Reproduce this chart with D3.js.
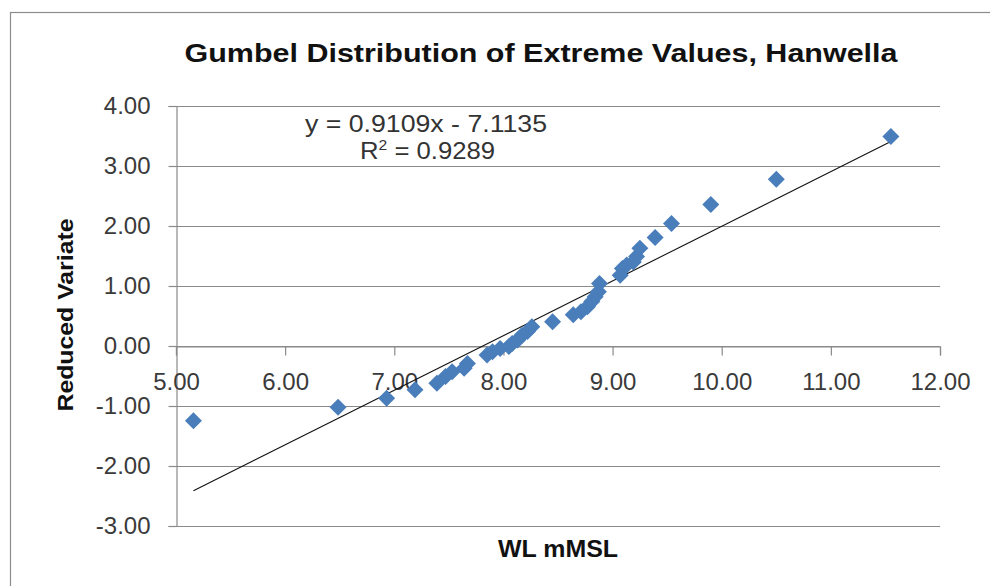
<!DOCTYPE html>
<html><head><meta charset="utf-8">
<script src="https://cdn.jsdelivr.net/npm/d3@7"></script>
<style>
html,body{margin:0;padding:0;background:#fff;}
svg{display:block;font-family:"Liberation Sans",Arial,sans-serif;}
</style></head>
<body>
<svg id="chart" width="990" height="586"></svg>
<script>
const waterLevel = [5.16, 6.485, 6.93, 7.19, 7.39, 7.47, 7.53, 7.64, 7.67, 7.85, 7.90, 7.97, 8.05, 8.08, 8.13, 8.17, 8.22, 8.26, 8.45, 8.64, 8.71, 8.77, 8.81, 8.84, 8.87, 8.88, 9.07, 9.09, 9.13, 9.19, 9.22, 9.25, 9.39, 9.54, 9.90, 10.50, 11.55];
const reducedVariate = [-1.245, -1.02, -0.87, -0.73, -0.62, -0.51, -0.43, -0.37, -0.29, -0.15, -0.095, -0.04, -0.01, 0.04, 0.10, 0.18, 0.24, 0.32, 0.405, 0.52, 0.57, 0.655, 0.74, 0.82, 0.905, 1.04, 1.18, 1.29, 1.35, 1.40, 1.49, 1.63, 1.81, 2.04, 2.36, 2.78, 3.49];
const xTicks = [5, 6, 7, 8, 9, 10, 11, 12];
const yTicks = [-3, -2, -1, 0, 1, 2, 3, 4];
const slope = 0.9109, intercept = -7.1135;
const titleText = "Gumbel Distribution of Extreme Values, Hanwella";
const xLabel = "WL mMSL";
const yLabel = "Reduced Variate";
const eqText = "y = 0.9109x - 7.1135";
const r2Value = "0.9289";

const svg = d3.select("#chart");
const x = d3.scaleLinear().domain([5, 12]).range([176, 940]);
const y = d3.scaleLinear().domain([-3, 4]).range([526, 106]);
const gridColor = "#8a8a8a";
const fmt = d => d.toFixed(2);

// chart border
svg.append("rect").attr("x", 10.5).attr("y", 12.5).attr("width", 1000).attr("height", 700)
  .attr("fill", "none").attr("stroke", "#8c8c8c").attr("stroke-width", 1.2);

// gridlines
svg.append("g").selectAll("line").data(yTicks).join("line")
  .attr("x1", x(5)).attr("x2", x(12))
  .attr("y1", d => Math.round(y(d)) + 0.5).attr("y2", d => Math.round(y(d)) + 0.5)
  .attr("stroke", gridColor).attr("stroke-width", 1.2);

// y axis
const yAxis = d3.axisLeft(y).tickValues(yTicks).tickSize(8).tickPadding(18).tickFormat(fmt);
const gy = svg.append("g").attr("transform", `translate(${x(5) + 0.5},0)`).call(yAxis);
gy.select(".domain").attr("stroke", gridColor).attr("stroke-width", 1.2);
gy.selectAll(".tick line").attr("stroke", gridColor).attr("stroke-width", 1.2);
gy.selectAll(".tick text").attr("font-size", 24).attr("fill", "#3a3a3a").attr("font-family", "Liberation Sans, Arial, sans-serif");

// x axis at y=0
const xAxis = d3.axisBottom(x).tickValues(xTicks).tickSize(9).tickPadding(17).tickFormat(fmt);
const gx = svg.append("g").attr("transform", `translate(0,${Math.round(y(0)) + 0.5})`).call(xAxis);
gx.select(".domain").attr("stroke", gridColor).attr("stroke-width", 1.2);
gx.selectAll(".tick line").attr("stroke", gridColor).attr("stroke-width", 1.2);
gx.selectAll(".tick text").attr("font-size", 24).attr("fill", "#3a3a3a").attr("font-family", "Liberation Sans, Arial, sans-serif");

// trendline
const xMin = d3.min(waterLevel), xMax = d3.max(waterLevel);
svg.append("line")
  .attr("x1", x(xMin)).attr("y1", y(slope * xMin + intercept))
  .attr("x2", x(xMax)).attr("y2", y(slope * xMax + intercept))
  .attr("stroke", "#111").attr("stroke-width", 1.1);

// points
const pts = waterLevel.map((v, i) => [v, reducedVariate[i]]);
svg.append("g").selectAll("path").data(pts).join("path")
  .attr("d", "M0,-8.5L8.5,0L0,8.5L-8.5,0Z")
  .attr("transform", d => `translate(${x(d[0])},${y(d[1])})`)
  .attr("fill", "#4A7EBB");

// title
svg.append("text").attr("x", 541).attr("y", 62).attr("text-anchor", "middle")
  .attr("font-size", 25).attr("font-weight", "bold").attr("fill", "#111")
  .attr("textLength", 713).attr("lengthAdjust", "spacingAndGlyphs")
  .text(titleText);

// equation
svg.append("text").attr("x", 426).attr("y", 132).attr("text-anchor", "middle")
  .attr("font-size", 23).attr("fill", "#333")
  .attr("textLength", 242).attr("lengthAdjust", "spacingAndGlyphs")
  .text(eqText);
const r2 = svg.append("text").attr("x", 427.5).attr("y", 159).attr("text-anchor", "middle")
  .attr("font-size", 23).attr("fill", "#333")
  .attr("textLength", 135).attr("lengthAdjust", "spacingAndGlyphs");
r2.append("tspan").text("R");
r2.append("tspan").attr("font-size", 14).attr("dy", -9).text("2");
r2.append("tspan").attr("dy", 9).text(" = " + r2Value);

// axis titles
svg.append("text").attr("x", 558).attr("y", 557).attr("text-anchor", "middle")
  .attr("font-size", 24).attr("font-weight", "bold").attr("fill", "#111")
  .attr("textLength", 120).attr("lengthAdjust", "spacingAndGlyphs")
  .text(xLabel);
svg.append("text").attr("transform", "translate(73,315) rotate(-90)").attr("text-anchor", "middle")
  .attr("font-size", 22).attr("font-weight", "bold").attr("fill", "#111")
  .attr("textLength", 193).attr("lengthAdjust", "spacingAndGlyphs")
  .text(yLabel);
</script>
</body></html>
